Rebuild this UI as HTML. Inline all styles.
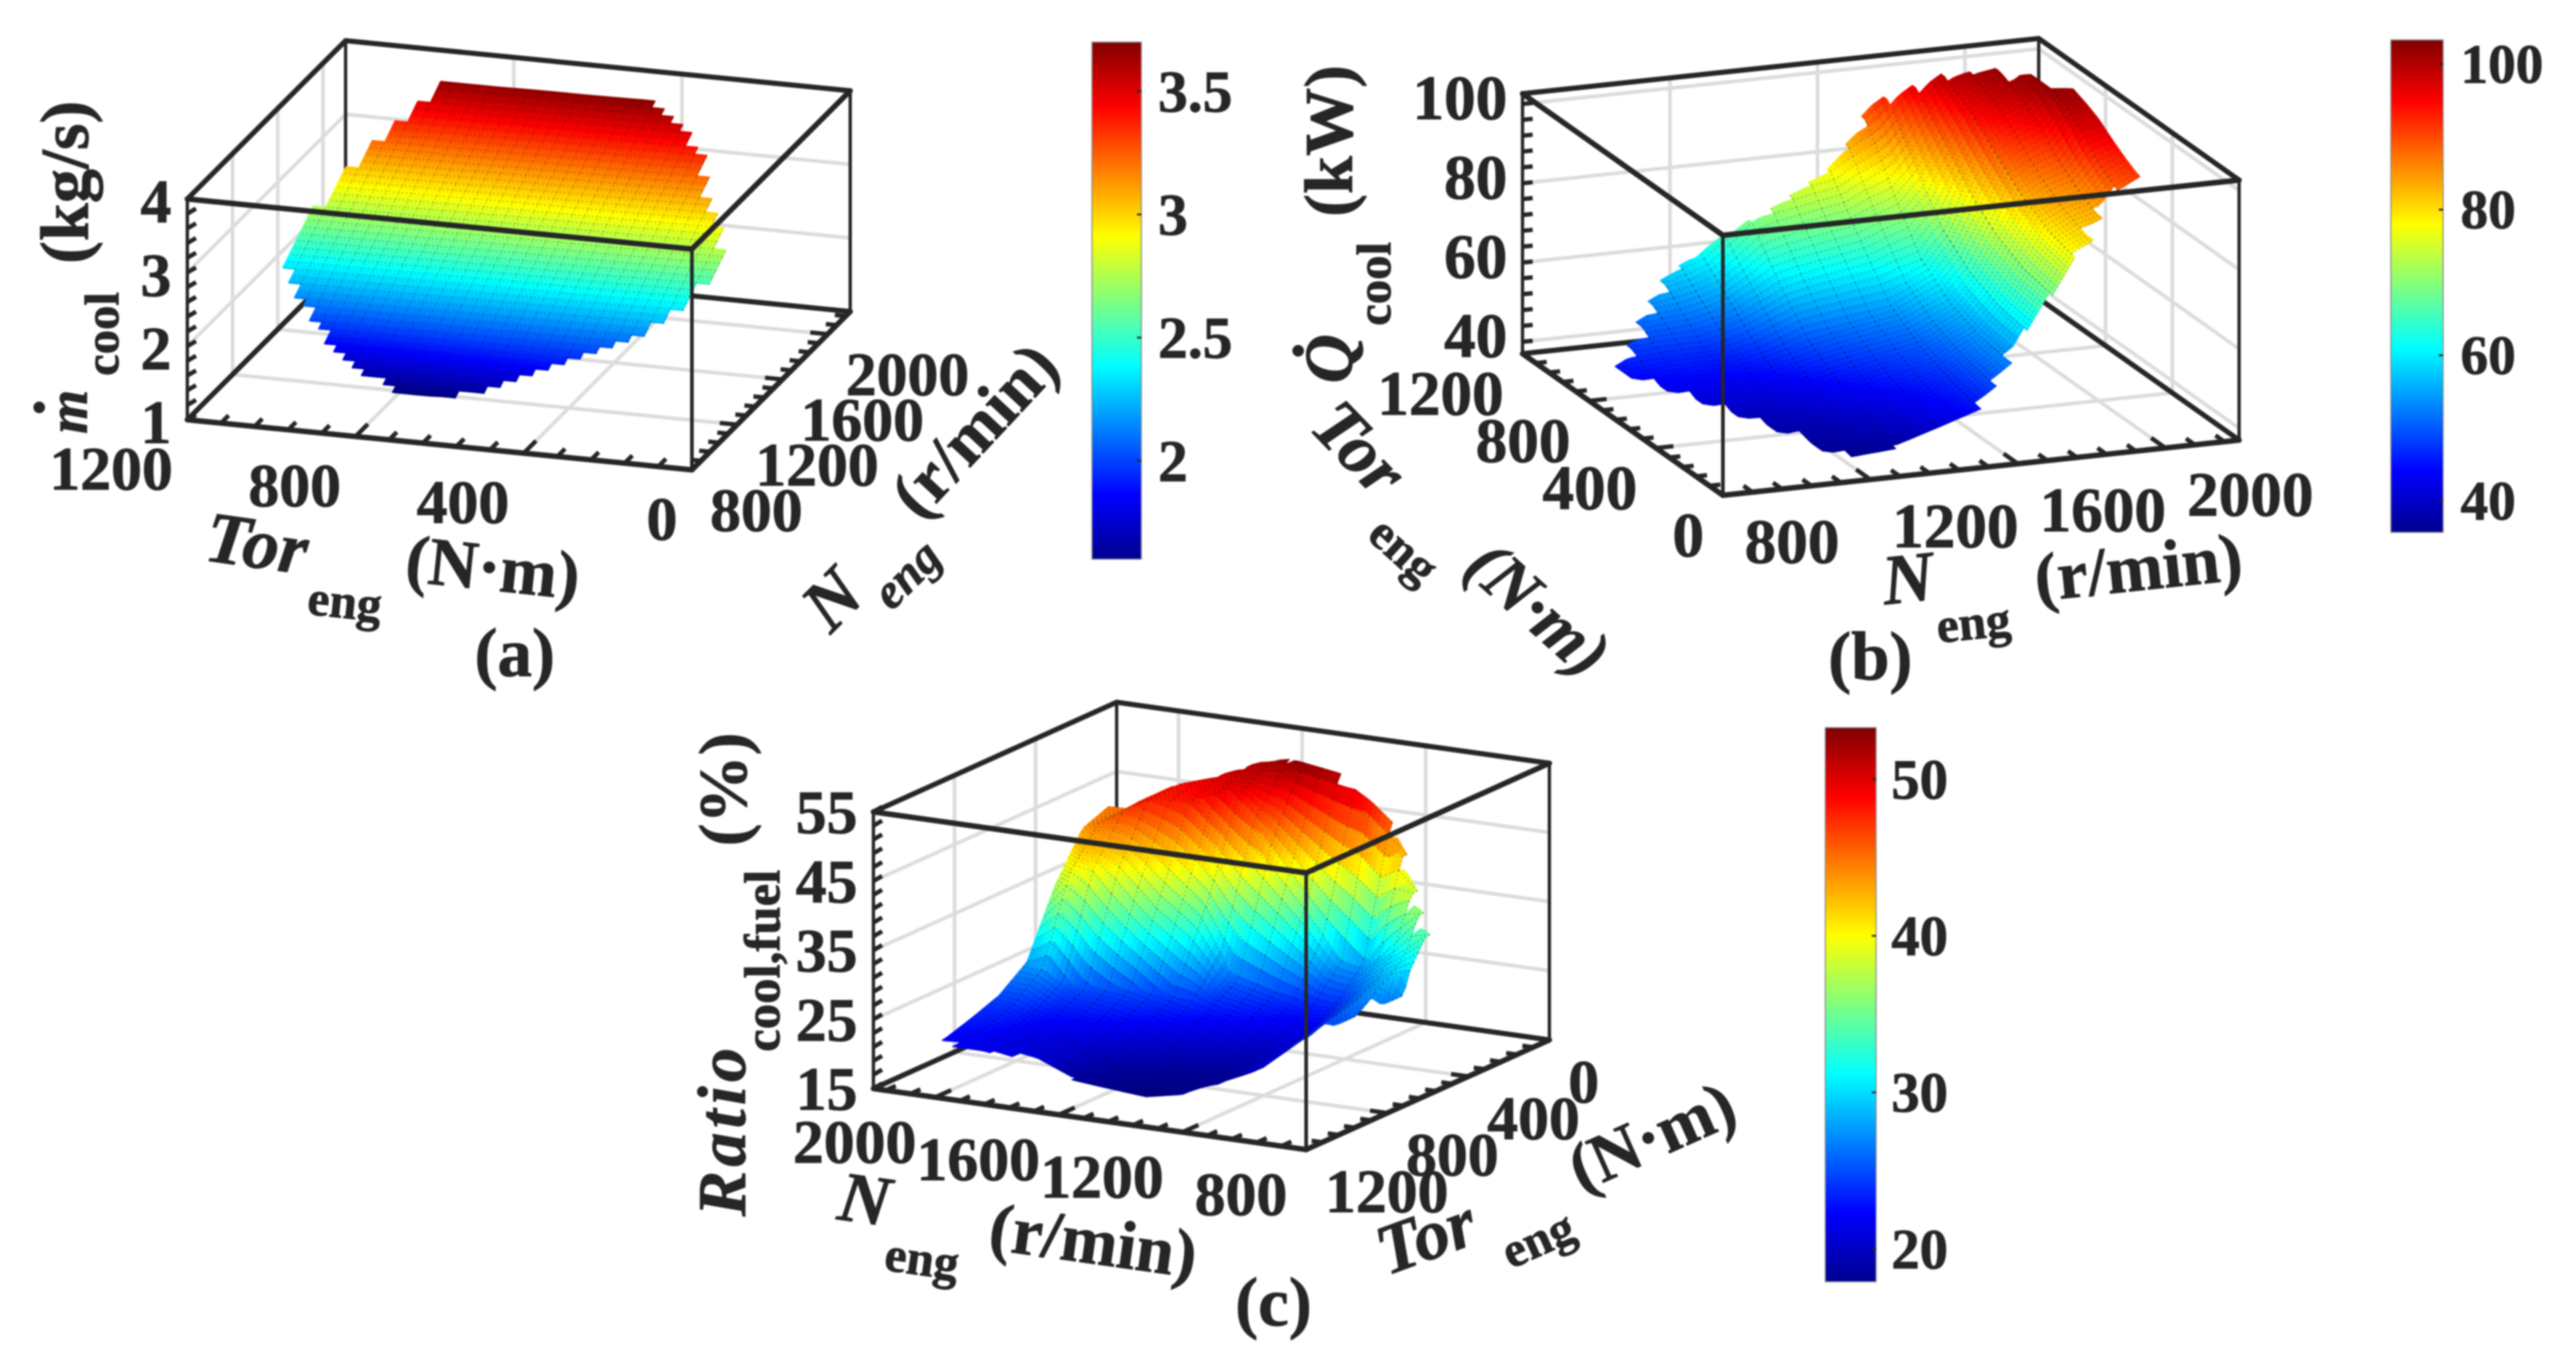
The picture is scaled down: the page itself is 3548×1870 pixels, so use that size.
<!DOCTYPE html>
<html lang="en">
<head>
<meta charset="utf-8">
<title>Engine cooling surfaces</title>
<style>
html,body{margin:0;padding:0;background:#fff;}
svg{display:block;filter:blur(1px);}
text{font-family:"Liberation Serif","DejaVu Serif",serif;font-weight:700;fill:#262626;stroke:#262626;stroke-width:1;}
.it{font-style:italic;}
</style>
</head>
<body>
<svg id="figure" width="3548" height="1870" viewBox="0 0 3548 1870" xmlns="http://www.w3.org/2000/svg">
<defs>
<linearGradient id="jet" x1="0" y1="1" x2="0" y2="0">
<stop offset="0" stop-color="#00008f"/><stop offset="0.125" stop-color="#0000ff"/><stop offset="0.375" stop-color="#00ffff"/><stop offset="0.625" stop-color="#ffff00"/><stop offset="0.875" stop-color="#ff0000"/><stop offset="1" stop-color="#800000"/>
</linearGradient>
</defs>
<rect width="3548" height="1870" fill="#fff"/>

<g id="panel-a"></g>
<g id="panel-b"></g>
<g id="panel-c"></g>

<g>
<text class="it" font-size="78" text-anchor="middle" dominant-baseline="central" transform="translate(93,567) rotate(-90)">m</text>
<circle cx="54" cy="561" r="8" fill="#262626"/>
<text font-size="67" text-anchor="middle" dominant-baseline="central" transform="translate(141,460) rotate(-90)">cool</text>
<text font-size="94" text-anchor="middle" dominant-baseline="central" transform="translate(90,251) rotate(-90)">(kg/s)</text>
<text class="it" font-size="100" text-anchor="middle" dominant-baseline="central" transform="translate(354,748) rotate(8)">Tor</text>
<text font-size="68" text-anchor="middle" dominant-baseline="central" transform="translate(475,828) rotate(6)">eng</text>
<text font-size="94" text-anchor="middle" dominant-baseline="central" transform="translate(679,782) rotate(6)">(N·m)</text>
<text class="it" font-size="100" text-anchor="middle" dominant-baseline="central" transform="translate(1146,825) rotate(-45)">N</text>
<text class="it" font-size="68" text-anchor="middle" dominant-baseline="central" transform="translate(1248,790) rotate(-45)">eng</text>
<text font-size="94" text-anchor="middle" dominant-baseline="central" transform="translate(1342,592) rotate(-47)">(r/min)</text>
<text font-size="95" text-anchor="middle" dominant-baseline="central" x="709" y="899">(a)</text>
</g>

<g>
<text class="it" font-size="94" text-anchor="middle" dominant-baseline="central" transform="translate(1831,494) rotate(-90)">Q</text>
<circle cx="1788" cy="483" r="8" fill="#262626"/>
<text font-size="67" text-anchor="middle" dominant-baseline="central" transform="translate(1893,391) rotate(-90)">cool</text>
<text font-size="94" text-anchor="middle" dominant-baseline="central" transform="translate(1831,194) rotate(-90)">(kW)</text>
<text class="it" font-size="98" text-anchor="middle" dominant-baseline="central" transform="translate(1872,617) rotate(46)">Tor</text>
<text font-size="68" text-anchor="middle" dominant-baseline="central" transform="translate(1934,757) rotate(42)">eng</text>
<text class="it" font-size="94" text-anchor="middle" dominant-baseline="central" transform="translate(2119,838) rotate(42)">(N·m)</text>
<text class="it" font-size="98" text-anchor="middle" dominant-baseline="central" transform="translate(2628,797) rotate(-6)">N</text>
<text font-size="68" text-anchor="middle" dominant-baseline="central" transform="translate(2718,857) rotate(-6)">eng</text>
<text font-size="94" text-anchor="middle" dominant-baseline="central" transform="translate(2945,782) rotate(-6)">(r/min)</text>
<text font-size="95" text-anchor="middle" dominant-baseline="central" x="2576" y="904">(b)</text>
</g>

<g>
<text class="it" font-size="94" textLength="232" text-anchor="middle" dominant-baseline="central" transform="translate(995,1559) rotate(-90)">Ratio</text>
<text font-size="70" text-anchor="middle" dominant-baseline="central" transform="translate(1051,1323) rotate(-90)">cool,fuel</text>
<text font-size="94" text-anchor="middle" dominant-baseline="central" transform="translate(997,1087) rotate(-90)">(%)</text>
<text class="it" font-size="98" text-anchor="middle" dominant-baseline="central" transform="translate(1191,1652) rotate(8)">N</text>
<text font-size="68" text-anchor="middle" dominant-baseline="central" transform="translate(1270,1733) rotate(8)">eng</text>
<text font-size="94" text-anchor="middle" dominant-baseline="central" transform="translate(1506,1709) rotate(8)">(r/min)</text>
<text class="it" font-size="98" text-anchor="middle" dominant-baseline="central" transform="translate(1964,1703) rotate(-20)">Tor</text>
<text font-size="68" text-anchor="middle" dominant-baseline="central" transform="translate(2118,1706) rotate(-24)">eng</text>
<text font-size="94" text-anchor="middle" dominant-baseline="central" transform="translate(2275,1565) rotate(-24)">(N·m)</text>
<text font-size="95" text-anchor="middle" dominant-baseline="central" x="1754" y="1793">(c)</text>
</g>
</svg>

<script>
// Tick labels shared by the panels
const torqueTicks = [0, 400, 800, 1200];
const speedTicks = [800, 1200, 1600, 2000];
const zTicksA = [1, 2, 3, 4];
const zTicksB = [40, 60, 80, 100];
const zTicksC = [15, 25, 35, 45, 55];
const barTicksA = [2, 2.5, 3, 3.5];
const barTicksB = [40, 60, 80, 100];
const barTicksC = [20, 30, 40, 50];

// Panel (a): coolant mass flow, kg/s
const speedsA = [828, 940, 1108, 1262, 1339, 1540, 1680, 1808, 1962, 2067, 2158];
const torqueLowA = [580, 432, 264, 168, 140, 125, 192, 240, 300, 384, 492];
const torqueHighA = [695, 864, 977, 1076, 1100, 1100, 1080, 1056, 1008, 972, 936];
const coolFlow = [
  [1.61, 1.61, 1.60, 1.60, 1.60],
  [1.80, 1.79, 1.78, 1.77, 1.76],
  [2.06, 2.05, 2.04, 2.03, 2.02],
  [2.32, 2.30, 2.29, 2.27, 2.26],
  [2.44, 2.42, 2.41, 2.39, 2.38],
  [2.76, 2.74, 2.73, 2.71, 2.70],
  [2.98, 2.96, 2.95, 2.93, 2.92],
  [3.17, 3.15, 3.14, 3.12, 3.11],
  [3.41, 3.40, 3.39, 3.37, 3.36],
  [3.57, 3.56, 3.55, 3.54, 3.53],
  [3.70, 3.69, 3.69, 3.68, 3.68]
];

// Panel (b): coolant heat rejection, kW
const speedsB = [870, 1036, 1120, 1216, 1360, 1590, 1740, 1895, 2032, 2065, 2170];
const torqueLowB = [740, 518, 408, 178, 190, 208, 340, 299, 455, 440, 450];
const torqueHighB = [760, 960, 1040, 1090, 1036, 1100, 1170, 1080, 1000, 820, 860];
const coolHeat = [
  [45, 45, 45, 45, 45, 45],
  [41, 43, 45, 47, 50, 53],
  [39, 41, 44, 47, 52, 57],
  [37, 39, 42, 47, 54, 61],
  [38, 41, 45, 50, 59, 70],
  [45, 47, 50, 55, 66, 78],
  [55, 56, 59, 65, 77, 91],
  [78, 80, 84, 90, 96, 100],
  [84, 87, 91, 96, 100, 102],
  [88, 90, 93, 97, 100, 102],
  [93, 95, 97, 99, 100, 101]
];

// Panel (c): cooling share of fuel energy, %
const speedsC = [950, 1070, 1180, 1260, 1370, 1514, 1623, 1733, 1869, 1960, 2050];
const torqueLowC = [385, 269, 188, 190, 168, 162, 125, 217, 228, 300, 290];
const torqueHighC = [500, 775, 984, 1113, 1110, 1129, 1100, 1092, 1156, 1150, 1100];
const coolRatio = [
  [34, 33, 32, 31, 30, 28, 27],
  [38, 31, 28, 26.5, 25.5, 25, 24],
  [46, 28, 24, 22, 20.5, 19.5, 20],
  [49, 28, 23, 21, 19.5, 18.5, 19],
  [52, 36, 24.5, 22, 20, 18.5, 18],
  [53, 44, 26, 23, 20.5, 19, 18.5],
  [52, 50, 37, 24.5, 22, 20, 19],
  [50, 48, 36, 25, 22.5, 21, 21],
  [48, 48, 40, 25, 22.5, 21.5, 22],
  [45, 45, 40, 27, 24, 22.5, 22],
  [45, 43, 36, 28, 25, 23.5, 22]
];

const SVGNS = 'http://www.w3.org/2000/svg';
function make(tag, attrs, parent) {
  const el = document.createElementNS(SVGNS, tag);
  for (const k in attrs) el.setAttribute(k, attrs[k]);
  parent.appendChild(el);
  return el;
}
function clamp01(v) { return Math.max(0, Math.min(1, v)); }
function jet(f) {
  const r = clamp01(Math.min(4 * f - 1.5, -4 * f + 4.5));
  const g = clamp01(Math.min(4 * f - 0.5, -4 * f + 3.5));
  const b = clamp01(Math.min(4 * f + 0.5, -4 * f + 2.5));
  return 'rgb(' + Math.round(r * 255) + ',' + Math.round(g * 255) + ',' + Math.round(b * 255) + ')';
}
function lerp(a, b, t) { return a + (b - a) * t; }

function drawPanel(cfg) {
  const root = document.getElementById(cfg.id);
  const scaleT = t => (t - cfg.tLim[0]) / (cfg.tLim[1] - cfg.tLim[0]);
  const scaleN = n => (n - cfg.nLim[0]) / (cfg.nLim[1] - cfg.nLim[0]);
  const scaleZ = z => (z - cfg.zLim[0]) / (cfg.zLim[1] - cfg.zLim[0]);
  const project = (t, n, z) => [
    cfg.origin[0] + scaleT(t) * cfg.tVec[0] + scaleN(n) * cfg.nVec[0] + scaleZ(z) * cfg.zVec[0],
    cfg.origin[1] + scaleT(t) * cfg.tVec[1] + scaleN(n) * cfg.nVec[1] + scaleZ(z) * cfg.zVec[1]
  ];
  const zMin = cfg.zLim[0], zMax = cfg.zLim[1];
  const tNear = cfg.frontT, nNear = cfg.nLim[0];
  const tFar = cfg.tLim[0] === tNear ? cfg.tLim[1] : cfg.tLim[0];
  const nFar = cfg.nLim[1];

  // grid on the floor and the two far walls
  const gridGroup = make('g', { fill: 'none', stroke: '#dcdcdc', 'stroke-width': 5 }, root);
  
  
  const gridSegments = [];
  torqueTicks.forEach(t => {
    gridSegments.push([project(t, nNear, zMin), project(t, nFar, zMin)]);
    gridSegments.push([project(t, nFar, zMin), project(t, nFar, zMax)]);
  });
  speedTicks.forEach(n => {
    gridSegments.push([project(tNear, n, zMin), project(tFar, n, zMin)]);
    gridSegments.push([project(tFar, n, zMin), project(tFar, n, zMax)]);
  });
  cfg.zTicks.forEach(z => {
    gridSegments.push([project(tFar, nNear, z), project(tFar, nFar, z)]);
    gridSegments.push([project(tNear, nFar, z), project(tFar, nFar, z)]);
  });
  gridSegments.forEach(s => {
    const ln = make('line', { x1: s[0][0], y1: s[0][1], x2: s[1][0], y2: s[1][1] }, gridGroup);
    
    
  });

  // box edges behind the surface
  const edge = (group, a, b, w) => {
    const ln = make('line', { x1: a[0], y1: a[1], x2: b[0], y2: b[1], stroke: '#262626', 'stroke-width': w, 'stroke-linecap': 'round' }, group);
    
    
  };
  const backBox = make('g', {}, root);
  
  
  const Fb = project(tNear, nNear, zMin), Ft = project(tNear, nNear, zMax);
  const Ab = project(tFar, nNear, zMin), At = project(tFar, nNear, zMax);
  const Cb = project(tNear, nFar, zMin), Ct = project(tNear, nFar, zMax);
  const Bb = project(tFar, nFar, zMin), Bt = project(tFar, nFar, zMax);
  [[Bb, Ab, 7], [Bb, Cb, 7], [Bb, Bt, 4.5], [At, Bt, 7], [Ct, Bt, 7], [Ab, At, 4.5], [Cb, Ct, 4.5], [Ab, Fb, 7.5], [Cb, Fb, 7.5]]
    .forEach(e => edge(backBox, e[0], e[1], e[2]));

  // axis tick marks
  const unit = v => { const m = Math.hypot(v[0], v[1]); return [v[0] / m, v[1] / m]; };
  const tickGroup = make('g', { stroke: '#262626', 'stroke-width': 6 }, root);
  
  
  const tick = (p, dir, len) => {
    const ln = make('line', { x1: p[0], y1: p[1], x2: p[0] + dir[0] * len, y2: p[1] + dir[1] * len }, tickGroup);
    
    
  };
  const nDir = unit(cfg.nVec);
  const tDirIn = unit(tFar > tNear ? cfg.tVec : [-cfg.tVec[0], -cfg.tVec[1]]);
  for (let t = 0; t <= 1200; t += 80) tick(project(t, nNear, zMin), nDir, t % 400 === 0 ? 24 : 15);
  for (let n = 800; n <= 2200; n += 80) tick(project(tNear, n, zMin), tDirIn, (n - 800) % 400 === 0 ? 24 : 15);
  const zStep = (cfg.zTicks[1] - cfg.zTicks[0]) / 5;
  for (let z = cfg.zTicks[0]; z <= zMax; z += zStep) {
    tick(project(cfg.zEdge[0], cfg.zEdge[1], z), cfg.zTickDir, 14);
  }

  // surface: a regular torque/speed mesh clipped to the operating envelope
  const K = cfg.vals[0].length, R = cfg.speeds.length;
  const envelope = n => {
    const rf = Math.max(0, Math.min(R - 1.0001, cfg.speeds.findIndex((v, i) => i === R - 1 || n < cfg.speeds[i + 1])));
    const r0 = Math.floor(rf), rt = clamp01((n - cfg.speeds[r0]) / (cfg.speeds[r0 + 1] - cfg.speeds[r0]));
    return { r0: r0, rt: rt, lo: lerp(cfg.low[r0], cfg.low[r0 + 1], rt), hi: lerp(cfg.high[r0], cfg.high[r0 + 1], rt) };
  };
  const valueAt = (t, n) => {
    const e = envelope(n);
    const s = clamp01((t - e.lo) / (e.hi - e.lo));
    const cf = s * (K - 1), c0 = Math.min(Math.floor(cf), K - 2), ct = cf - c0;
    return lerp(lerp(cfg.vals[e.r0][c0], cfg.vals[e.r0][c0 + 1], ct), lerp(cfg.vals[e.r0 + 1][c0], cfg.vals[e.r0 + 1][c0 + 1], ct), e.rt);
  };
  const surface = make('g', { 'stroke-width': 1.4, 'stroke-linejoin': 'round' }, root);
  
  
  const nRows = Math.floor((cfg.speeds[R - 1] - cfg.speeds[0]) / cfg.dN);
  const nCols = Math.round(1200 / cfg.dT);
  const SPLIT = 4;
  const highTorqueFirst = cfg.frontT === cfg.tLim[0];
  let meshPath = '';
  const fmt = p => p[0].toFixed(1) + ' ' + p[1].toFixed(1);
  for (let i = nRows - 1; i >= 0; i--) {
    const rowStart = cfg.speeds[0] + i * cfg.dN;
    const env = envelope(rowStart + cfg.dN / 2);
    for (let jj = 0; jj < nCols; jj++) {
      const j = highTorqueFirst ? nCols - 1 - jj : jj;
      const tA = j * cfg.dT, tB = tA + cfg.dT, tC = (tA + tB) / 2;
      if (tC < env.lo || tC > env.hi) continue;
      const cornerA = project(tA, rowStart, valueAt(tA, rowStart));
      const cornerB = project(tB, rowStart, valueAt(tB, rowStart));
      const cornerD = project(tA, rowStart + cfg.dN, valueAt(tA, rowStart + cfg.dN));
      meshPath += 'M' + fmt(cornerA) + 'L' + fmt(cornerB) + 'M' + fmt(cornerA) + 'L' + fmt(cornerD);
    }
    // colour strips are finer than the mesh rows so contours stay smooth
    for (let q = SPLIT - 1; q >= 0; q--) {
      const nA = rowStart + q * cfg.dN / SPLIT, nB = nA + cfg.dN / SPLIT;
      for (let jj = 0; jj < nCols; jj++) {
        const j = highTorqueFirst ? nCols - 1 - jj : jj;
        const tA = j * cfg.dT, tB = tA + cfg.dT, tC = (tA + tB) / 2;
        if (tC < env.lo || tC > env.hi) continue;
        const za = valueAt(tA, nA), zb = valueAt(tB, nA), zc = valueAt(tB, nB), zd = valueAt(tA, nB);
        const pa = project(tA, nA, za), pb = project(tB, nA, zb), pc = project(tB, nB, zc), pd = project(tA, nB, zd);
        const col = jet(((za + zb + zc + zd) / 4 - cfg.barRange[0]) / (cfg.barRange[1] - cfg.barRange[0]));
        const poly = make('polygon', { points: [pa, pb, pc, pd].map(p => p[0].toFixed(1) + ',' + p[1].toFixed(1)).join(' '), fill: col, stroke: col }, surface);
        
        
      }
    }
  }

  // faint dotted mesh lines
  const mesh = make('path', { d: meshPath, fill: 'none', stroke: '#000', 'stroke-opacity': 0.35, 'stroke-width': 1.3, 'stroke-dasharray': '2 4' }, root);
  
  

  // box edges in front of the surface
  const frontBox = make('g', {}, root);
  
  
  [[Ft, At, 7.5], [Ft, Ct, 7.5], [Ft, Fb, 5]].forEach(e => edge(frontBox, e[0], e[1], e[2]));

  // tick labels
  const label = (p, txt, style, size) => {
    const el = make('text', { x: p[0] + style.dx, y: p[1] + style.dy, 'text-anchor': style.anchor, 'font-size': size }, root);
    el.textContent = txt;
    
    
  };
  torqueTicks.forEach(t => label(project(t, nNear, zMin), t, cfg.tLabel, cfg.tickSize));
  speedTicks.forEach(n => label(project(tNear, n, zMin), n, cfg.nLabel, cfg.tickSize));
  cfg.zTicks.forEach(z => label(project(cfg.zEdge[0], cfg.zEdge[1], z), z, cfg.zLabel, cfg.tickSize));

  // colour bar
  const barScale = v => cfg.bar.y1 - (v - cfg.barRange[0]) / (cfg.barRange[1] - cfg.barRange[0]) * (cfg.bar.y1 - cfg.bar.y0);
  const bar = make('rect', { x: cfg.bar.x0, y: cfg.bar.y0, width: cfg.bar.x1 - cfg.bar.x0, height: cfg.bar.y1 - cfg.bar.y0, fill: 'url(#jet)', stroke: '#8a8a8a', 'stroke-width': 1.5 }, root);
  
  
  cfg.barTicks.forEach(v => {
    const y = barScale(v);
    const tk = make('line', { x1: cfg.bar.x1 - 6, y1: y, x2: cfg.bar.x1, y2: y, stroke: '#262626', 'stroke-width': 2.5 }, root);
    
    
    const el = make('text', { x: cfg.bar.labelX, y: y + cfg.barSize * 0.34, 'font-size': cfg.barSize }, root);
    el.textContent = v;
    
    
  });
}

drawPanel({
  id: 'panel-a',
  tLim: [0, 1200], nLim: [800, 2200], zLim: [1, 4], frontT: 0,
  origin: [953, 647], tVec: [-695, -69], nVec: [218, -218], zVec: [0, -304],
  zTicks: zTicksA, zEdge: [1200, 800], zTickDir: [0.85, -0.5],
  speeds: speedsA, low: torqueLowA, high: torqueHighA, vals: coolFlow,
  dT: 30, dN: 30,
  barRange: [1.6, 3.7], barTicks: barTicksA, barSize: 82,
  bar: { x0: 1504, x1: 1572, y0: 58, y1: 770, labelX: 1595 },
  tickSize: 85,
  tLabel: { anchor: 'end', dx: -20, dy: 96 },
  nLabel: { anchor: 'start', dx: 25, dy: 84 },
  zLabel: { anchor: 'end', dx: -22, dy: 32 }
});
drawPanel({
  id: 'panel-b',
  tLim: [0, 1200], nLim: [800, 2200], zLim: [37, 102.6], frontT: 0,
  origin: [2373, 682], tVec: [-276, -195], nVec: [711, -76], zVec: [0, -358],
  zTicks: zTicksB, zEdge: [1200, 800], zTickDir: [1, -0.1],
  speeds: speedsB, low: torqueLowB, high: torqueHighB, vals: coolHeat,
  dT: 20, dN: 60,
  barRange: [35.7, 103.3], barTicks: barTicksB, barSize: 76,
  bar: { x0: 3293, x1: 3365, y0: 55, y1: 733, labelX: 3389 },
  tickSize: 87,
  tLabel: { anchor: 'end', dx: -26, dy: 84 },
  nLabel: { anchor: 'start', dx: 30, dy: 93 },
  zLabel: { anchor: 'end', dx: -21, dy: 21 }
});
drawPanel({
  id: 'panel-c',
  tLim: [0, 1200], nLim: [800, 2200], zLim: [15, 55], frontT: 1200,
  origin: [2134, 1432], tVec: [-335, 151], nVec: [-596, -84], zVec: [0, -381],
  zTicks: zTicksC, zEdge: [1200, 2200], zTickDir: [0.85, -0.5],
  speeds: speedsC, low: torqueLowC, high: torqueHighC, vals: coolRatio,
  dT: 20, dN: 60,
  barRange: [17.9, 53.3], barTicks: barTicksC, barSize: 78,
  bar: { x0: 2514, x1: 2584, y0: 1002, y1: 1765, labelX: 2605 },
  tickSize: 85,
  tLabel: { anchor: 'start', dx: 26, dy: 86 },
  nLabel: { anchor: 'end', dx: -26, dy: 90 },
  zLabel: { anchor: 'end', dx: -22, dy: 29 }
});
</script>
</body>
</html>
